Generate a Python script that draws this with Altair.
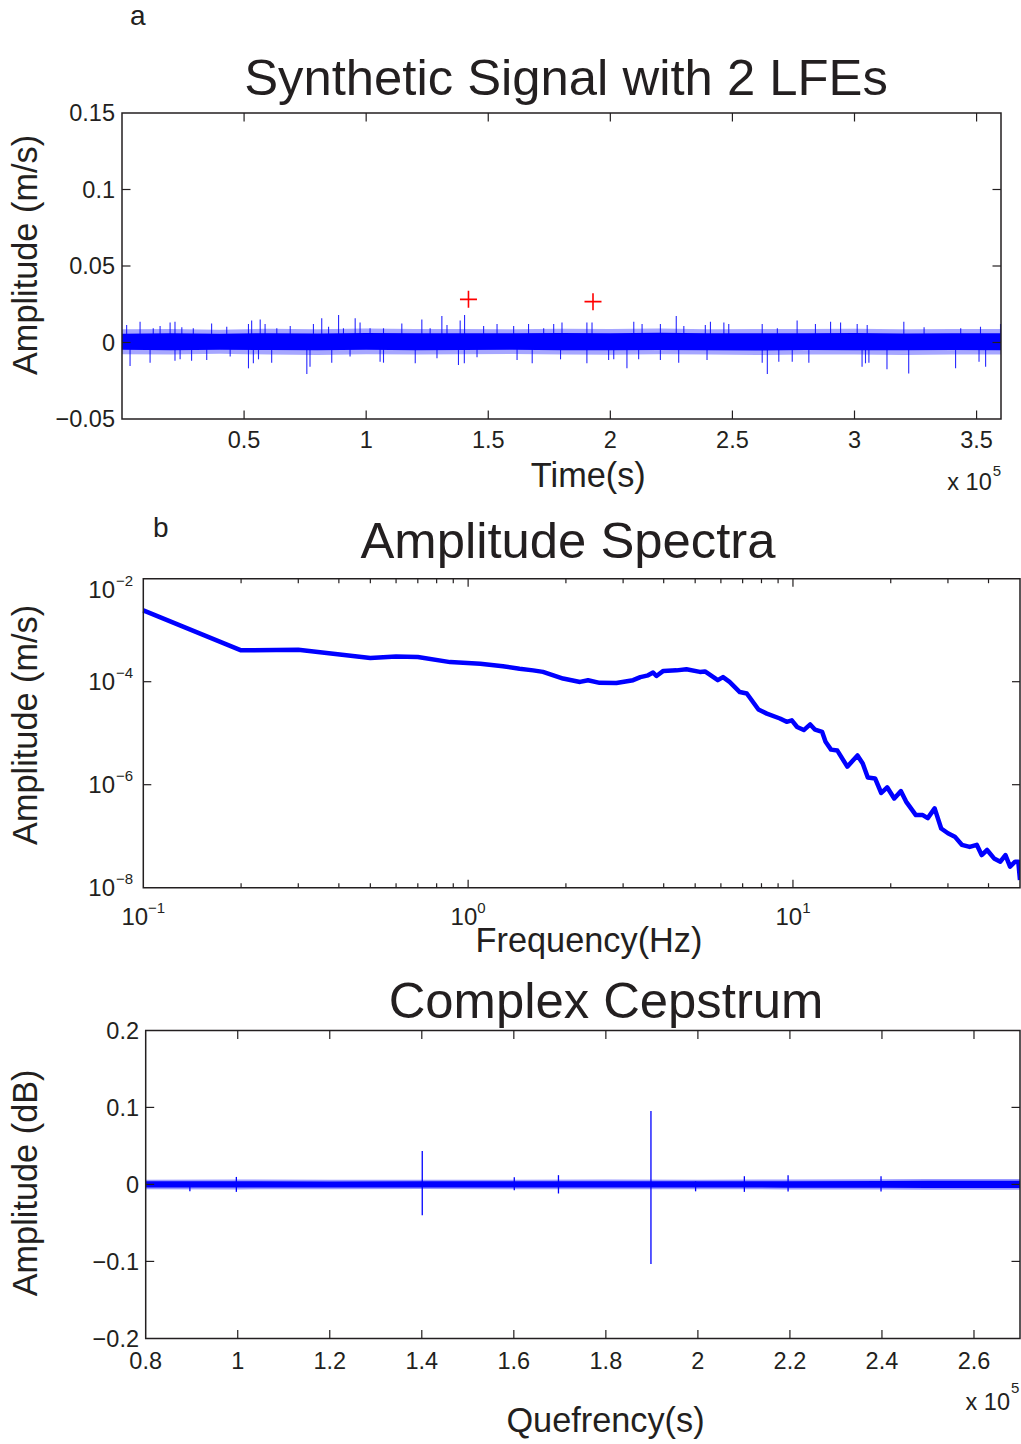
import altair as alt
import pandas as pd

FONT = "Liberation Sans"
INK = "#231f20"
BLUE = "#0000ff"
RED = "#ff0000"

# ---------------- Panel a : synthetic signal (time in units of 1e5 s) ----------------
a_x_ticks = [0.5, 1.0, 1.5, 2.0, 2.5, 3.0, 3.5]
a_y_ticks = [-0.05, 0.0, 0.05, 0.1, 0.15]
a_y_inner = [0.0, 0.05, 0.1]

lfe_time = [1.419, 1.929]
lfe_amp = [0.0282, 0.0267]

band_t = [0.0, 0.2, 0.4, 0.6, 0.8, 1.0, 1.2, 1.4, 1.6, 1.8, 2.0, 2.2, 2.4, 2.6, 2.8, 3.0, 3.2, 3.4, 3.6]
core_hi = [0.0058, 0.0060, 0.0057, 0.0061, 0.0059, 0.0062, 0.0060, 0.0061, 0.0060, 0.0062, 0.0061, 0.0063, 0.0060, 0.0061, 0.0060, 0.0062, 0.0059, 0.0060, 0.0061]
core_lo = [-0.0048, -0.0050, -0.0047, -0.0049, -0.0051, -0.0048, -0.0050, -0.0049, -0.0048, -0.0050, -0.0051, -0.0049, -0.0050, -0.0052, -0.0049, -0.0050, -0.0051, -0.0049, -0.0050]
fringe_hi = [0.0086, 0.0088, 0.0084, 0.0090, 0.0087, 0.0091, 0.0088, 0.0089, 0.0086, 0.0090, 0.0088, 0.0092, 0.0087, 0.0089, 0.0088, 0.0090, 0.0086, 0.0088, 0.0089]
fringe_lo = [-0.0076, -0.0078, -0.0074, -0.0079, -0.0081, -0.0077, -0.0078, -0.0077, -0.0075, -0.0078, -0.0080, -0.0077, -0.0079, -0.0082, -0.0078, -0.0079, -0.0081, -0.0078, -0.0079]

a_up_t = [0.019, 0.074, 0.128, 0.156, 0.197, 0.217, 0.245, 0.292, 0.367, 0.429, 0.518, 0.531, 0.566, 0.586, 0.634,
          0.689, 0.784, 0.818, 0.846, 0.887, 0.907,
          0.955, 0.975, 1.016, 1.071, 1.146, 1.228, 1.262, 1.310, 1.331, 1.385, 1.403, 1.481, 1.536, 1.604, 1.665,
          1.727, 1.768, 1.802,
          1.904, 1.925, 2.096, 2.130, 2.205, 2.270, 2.301, 2.389, 2.410, 2.465, 2.485, 2.622, 2.684,
          2.765, 2.840, 2.902, 2.943, 3.011, 3.052, 3.202, 3.285, 3.435, 3.516, 3.598]
a_up_v = [0.0114, 0.0136, 0.0093, 0.0108, 0.0130, 0.0136, 0.0099, 0.0093, 0.0125, 0.0103, 0.0121, 0.0143, 0.0151,
          0.0121, 0.0093, 0.0108, 0.0121, 0.0158, 0.0103, 0.0180, 0.0093,
          0.0158, 0.0130, 0.0093, 0.0093, 0.0125, 0.0151, 0.0093, 0.0173, 0.0114, 0.0143, 0.0180, 0.0108, 0.0121,
          0.0108, 0.0121, 0.0093, 0.0121, 0.0130,
          0.0130, 0.0130, 0.0136, 0.0121, 0.0121, 0.0173, 0.0108, 0.0114, 0.0136, 0.0130, 0.0121, 0.0121, 0.0093,
          0.0143, 0.0121, 0.0136, 0.0130, 0.0121, 0.0114, 0.0136, 0.0099, 0.0093, 0.0103, 0.0121]
a_dn_t = [0.033, 0.115, 0.217, 0.238, 0.285, 0.347, 0.443, 0.518, 0.538, 0.559, 0.613, 0.757, 0.770, 0.859,
          0.934, 1.057, 1.071, 1.201, 1.290, 1.378, 1.402, 1.454, 1.618, 1.680, 1.796,
          1.904, 1.993, 2.014, 2.068, 2.116, 2.205, 2.280, 2.396, 2.622, 2.643, 2.690,
          2.745, 2.813, 3.031, 3.045, 3.059, 3.133, 3.222, 3.414, 3.510, 3.537]
a_dn_v = [-0.0154, -0.0132, -0.0119, -0.0110, -0.0119, -0.0114, -0.0092, -0.0169, -0.0136, -0.0110, -0.0132, -0.0206,
          -0.0158, -0.0132,
          -0.0092, -0.0125, -0.0132, -0.0136, -0.0103, -0.0147, -0.0136, -0.0097, -0.0114, -0.0136, -0.0110,
          -0.0136, -0.0114, -0.0110, -0.0169, -0.0110, -0.0114, -0.0132, -0.0114, -0.0132, -0.0206, -0.0125,
          -0.0125, -0.0132, -0.0158, -0.0136, -0.0132, -0.0175, -0.0202, -0.0169, -0.0125, -0.0158]

# ---------------- Panel b : amplitude spectrum ----------------
freq_hz = [0.1, 0.2, 0.3, 0.5, 0.6, 0.7, 0.88, 1.09, 1.28, 1.44, 1.585, 1.70, 1.96, 2.21, 2.34, 2.54, 2.86, 3.22,
           3.39, 3.58, 3.71, 3.80, 3.99, 4.38, 4.70, 5.17, 5.36, 5.87, 6.09, 6.38, 6.86, 7.21, 7.83, 8.31, 9.12,
           9.56, 9.92, 10.3, 10.8, 11.3, 11.7, 12.3, 12.6, 13.1, 13.7, 14.7, 15.8, 16.4, 17.0, 17.9, 18.7, 19.5,
           20.5, 21.5, 22.3, 23.9, 25.1, 26.0, 27.3, 28.6, 30.0, 31.5, 33.1, 35.0, 36.8, 38.1, 39.6, 41.6, 43.5,
           45.1, 46.6, 48.3, 49.4, 50.0]
amp_ms = [2.43e-3, 4.07e-4, 4.17e-4, 2.88e-4, 3.09e-4, 3.02e-4, 2.40e-4, 2.24e-4, 2.0e-4, 1.78e-4, 1.66e-4, 1.55e-4,
          1.15e-4, 9.9e-5, 1.07e-4, 9.5e-5, 9.4e-5, 1.07e-4, 1.23e-4, 1.33e-4, 1.51e-4, 1.29e-4, 1.62e-4, 1.66e-4,
          1.74e-4, 1.55e-4, 1.58e-4, 1.07e-4, 1.23e-4, 9.9e-5, 6.3e-5, 5.9e-5, 2.88e-5, 2.40e-5, 1.93e-5, 1.66e-5,
          1.78e-5, 1.32e-5, 1.15e-5, 1.48e-5, 1.17e-5, 1.06e-5, 6.8e-6, 4.8e-6, 4.6e-6, 2.24e-6, 3.7e-6, 2.57e-6,
          1.38e-6, 1.32e-6, 6.9e-7, 8.9e-7, 5.4e-7, 7.5e-7, 4.7e-7, 2.57e-7, 2.57e-7, 2.24e-7, 3.47e-7, 1.41e-7,
          1.14e-7, 9.8e-8, 6.8e-8, 6.2e-8, 6.8e-8, 4.3e-8, 5.4e-8, 3.7e-8, 3.2e-8, 4.3e-8, 2.57e-8, 3.2e-8, 3.2e-8,
          1.41e-8]
b_x_major = [1.0, 10.0]
b_x_minor = [0.2, 0.3, 0.4, 0.5, 0.6, 0.7, 0.8, 0.9, 2.0, 3.0, 4.0, 5.0, 6.0, 7.0, 8.0, 9.0, 20.0, 30.0, 40.0]
b_y_major = [1e-6, 1e-4]
b_x_label_exp = [-1, 0, 1]
b_y_label_exp = [-8, -6, -4, -2]

# ---------------- Panel c : complex cepstrum (quefrency in units of 1e5 s) ----------------
c_x_ticks = [0.8, 1.0, 1.2, 1.4, 1.6, 1.8, 2.0, 2.2, 2.4, 2.6]
c_x_inner = [1.0, 1.2, 1.4, 1.6, 1.8, 2.0, 2.2, 2.4, 2.6]
c_y_ticks = [-0.2, -0.1, 0.0, 0.1, 0.2]
c_y_inner = [-0.1, 0.0, 0.1]

cband_t = [0.8, 1.0, 1.2, 1.4, 1.6, 1.8, 2.0, 2.2, 2.4, 2.5, 2.6, 2.7]
ccore_hi = [0.0040, 0.0041, 0.0039, 0.0040, 0.0040, 0.0041, 0.0040, 0.0042, 0.0044, 0.0047, 0.0048, 0.0048]
ccore_lo = [-0.0040, -0.0041, -0.0040, -0.0039, -0.0040, -0.0041, -0.0040, -0.0042, -0.0044, -0.0046, -0.0047, -0.0047]
cfringe_hi = [0.0062, 0.0064, 0.0060, 0.0062, 0.0061, 0.0063, 0.0062, 0.0064, 0.0066, 0.0070, 0.0071, 0.0070]
cfringe_lo = [-0.0064, -0.0065, -0.0062, -0.0061, -0.0063, -0.0064, -0.0062, -0.0065, -0.0067, -0.0069, -0.0070, -0.0070]

c_spike_t = [0.896, 0.997, 1.401, 1.601, 1.697, 1.898, 1.995, 2.101, 2.196, 2.398]
c_spike_hi = [0.0030, 0.0097, 0.0434, 0.0092, 0.0120, 0.0953, 0.0040, 0.0106, 0.0119, 0.0106]
c_spike_lo = [-0.0090, -0.0097, -0.0400, -0.0075, -0.0118, -0.1035, -0.0090, -0.0097, -0.0092, -0.0092]

# ---------------- style helpers ----------------
LABEL_SIZE = 23.5
SUP_SIZE = 15
AXTITLE_SIZE = 34.3
TITLE_SIZE = 50.8
TICK_LEN = 8.5
NO_VIEW = alt.ViewBackground(stroke="transparent", strokeWidth=0, fill="transparent")


def fmt(v):
    return f"{v:g}".replace("-", "\u2212")


def txt_w(s, size):
    return sum(0.584 if ch == "\u2212" else 0.556 for ch in s) * size


def exp_text(e):
    return ("\u2212" + str(-e)) if e < 0 else str(e)


def one(**cols):
    return pd.DataFrame({k: [v] for k, v in cols.items()})


def text_at(s, x, y, size, align="left", angle=0):
    return alt.Chart(one(s=s)).mark_text(font=FONT, fontSize=size, color=INK, align=align,
                                         baseline="alphabetic", angle=angle).encode(
        x=alt.value(x), y=alt.value(y), text="s:N")


def frame(x0, x1, h):
    return alt.Chart(one(s=0)).mark_rect(filled=False, stroke=INK, strokeWidth=1.5).encode(
        x=alt.value(x0), x2=alt.value(x1), y=alt.value(0), y2=alt.value(h))


def tick_rules(X, Y, x0, x1, h, xvals=None, yvals=None, L=TICK_LEN):
    layers = []
    if xvals:
        base = alt.Chart(pd.DataFrame({"t": xvals})).mark_rule(color=INK, strokeWidth=1.2)
        layers.append(base.encode(x=X("t"), y=alt.value(h), y2=alt.value(h - L)))
        layers.append(base.encode(x=X("t"), y=alt.value(0), y2=alt.value(L)))
    if yvals:
        base = alt.Chart(pd.DataFrame({"v": yvals})).mark_rule(color=INK, strokeWidth=1.2)
        layers.append(base.encode(y=Y("v"), x=alt.value(x0), x2=alt.value(x0 + L)))
        layers.append(base.encode(y=Y("v"), x=alt.value(x1), x2=alt.value(x1 - L)))
    return layers


def x_labels(X, vals, y_base):
    d = pd.DataFrame({"t": vals, "s": [fmt(v) for v in vals]})
    return alt.Chart(d).mark_text(font=FONT, fontSize=LABEL_SIZE, color=INK, align="center",
                                  baseline="alphabetic").encode(x=X("t"), y=alt.value(y_base), text="s:N")


def y_labels(Y, vals, x_right):
    d = pd.DataFrame({"v": vals, "s": [fmt(v) for v in vals]})
    return alt.Chart(d).mark_text(font=FONT, fontSize=LABEL_SIZE, color=INK, align="right",
                                  baseline="alphabetic", dy=8.2).encode(y=Y("v"), x=alt.value(x_right), text="s:N")


def times_ten(x_right, y_base, y_sup):
    return [text_at("x 10", x_right, y_base, LABEL_SIZE, "right"),
            text_at("5", x_right + 1, y_sup, SUP_SIZE, "left")]


# Every panel's group starts at the same left edge (x = 122 px in the page);
# plot frames of panels b and c start further right via their scale ranges.

# ---------------- Panel a ----------------
A_X0, A_X1, A_H = 0, 879, 306
A_GH = 322.6
a_xs = alt.Scale(domain=[0, 3.6], range=[A_X0, A_X1], nice=False, zero=False)
a_ys = alt.Scale(domain=[-0.05, 0.15], range=[A_H, 0], nice=False, zero=False)


def AX(f):
    return alt.X(f, type="quantitative", scale=a_xs, axis=None)


def AY(f):
    return alt.Y(f, type="quantitative", scale=a_ys, axis=None)


band_df = pd.DataFrame({"t": band_t, "chi": core_hi, "clo": core_lo, "fhi": fringe_hi, "flo": fringe_lo})
up_df = pd.DataFrame({"t": a_up_t, "v": a_up_v, "z": [0.0] * len(a_up_t)})
dn_df = pd.DataFrame({"t": a_dn_t, "v": a_dn_v, "z": [0.0] * len(a_dn_t)})
lfe_df = pd.DataFrame({"t": lfe_time, "v": lfe_amp})

a_layers = [
    alt.Chart(band_df).mark_area(color=BLUE, opacity=0.35).encode(x=AX("t"), y=AY("fhi"), y2="flo"),
    alt.Chart(band_df).mark_area(color=BLUE, opacity=1).encode(x=AX("t"), y=AY("chi"), y2="clo"),
    alt.Chart(up_df).mark_rule(color=BLUE, strokeWidth=1.1, opacity=0.85).encode(x=AX("t"), y=AY("v"), y2="z"),
    alt.Chart(dn_df).mark_rule(color=BLUE, strokeWidth=1.1, opacity=0.85).encode(x=AX("t"), y=AY("v"), y2="z"),
    alt.Chart(lfe_df).mark_point(shape="M-1,0L1,0M0,-1L0,1", size=289, color=RED, filled=False,
                                 strokeWidth=1.6, opacity=1).encode(x=AX("t"), y=AY("v")),
    frame(A_X0, A_X1, A_H),
]
a_layers += tick_rules(AX, AY, A_X0, A_X1, A_H, a_x_ticks, a_y_inner)
a_layers += [
    x_labels(AX, a_x_ticks, 335),
    y_labels(AY, a_y_ticks, -7),
    text_at("Synthetic Signal with 2 LFEs", 444, -18, TITLE_SIZE, "center"),
    text_at("Time(s)", 466.3, 374.3, AXTITLE_SIZE, "center"),
    text_at("Amplitude (m/s)", -85, 142, AXTITLE_SIZE, "center", 270),
    text_at("a", 8, -88, 28, "left"),
]
a_layers += times_ten(869.7, 377, 363)
panel_a = alt.layer(*a_layers).properties(width=A_X1, height=A_GH, view=NO_VIEW)

# ---------------- Panel b ----------------
B_X0, B_X1, B_H = 21.3, 898, 309
b_xs = alt.Scale(type="log", domain=[0.1, 50], range=[B_X0, B_X1], nice=False)
b_ys = alt.Scale(type="log", domain=[1e-8, 1e-2], range=[B_H, 0], nice=False)


def BX(f):
    return alt.X(f, type="quantitative", scale=b_xs, axis=None)


def BY(f):
    return alt.Y(f, type="quantitative", scale=b_ys, axis=None)


spec_df = pd.DataFrame({"t": freq_hz, "v": amp_ms})
b_layers = [
    alt.Chart(spec_df).mark_line(color=BLUE, strokeWidth=4.5, strokeJoin="round", clip=True).encode(
        x=BX("t"), y=BY("v")),
    frame(B_X0, B_X1, B_H),
]
b_layers += tick_rules(BX, BY, B_X0, B_X1, B_H, b_x_major, b_y_major, L=8)
b_layers += tick_rules(BX, BY, B_X0, B_X1, B_H, b_x_minor, None, L=4.5)

BASE_SIZE = 24
BASE_W = txt_w("10", BASE_SIZE)
for e in b_x_label_exp:
    et = exp_text(e)
    junction = (BASE_W - txt_w(et, SUP_SIZE)) / 2
    d = pd.DataFrame({"t": [10.0 ** e], "b": ["10"], "e": [et]})
    b_layers.append(alt.Chart(d).mark_text(font=FONT, fontSize=BASE_SIZE, color=INK, align="right",
                                           baseline="alphabetic", dx=junction).encode(
        x=BX("t"), y=alt.value(346.7), text="b:N"))
    b_layers.append(alt.Chart(d).mark_text(font=FONT, fontSize=SUP_SIZE, color=INK, align="left",
                                           baseline="alphabetic", dx=junction).encode(
        x=BX("t"), y=alt.value(334.7), text="e:N"))

for e in b_y_label_exp:
    et = exp_text(e)
    shift = 11 if e == b_y_label_exp[-1] else 0
    d = pd.DataFrame({"v": [10.0 ** e], "b": ["10"], "e": [et]})
    b_layers.append(alt.Chart(d).mark_text(font=FONT, fontSize=BASE_SIZE, color=INK, align="right",
                                           baseline="alphabetic", dy=8.6 + shift).encode(
        y=BY("v"), x=alt.value(-7), text="b:N"))
    b_layers.append(alt.Chart(d).mark_text(font=FONT, fontSize=SUP_SIZE, color=INK, align="left",
                                           baseline="alphabetic", dy=-3.4 + shift).encode(
        y=BY("v"), x=alt.value(-6), text="e:N"))

b_layers += [
    text_at("Amplitude Spectra", 446, -20.3, TITLE_SIZE, "center"),
    text_at("Frequency(Hz)", 467, 373.7, AXTITLE_SIZE, "center"),
    text_at("Amplitude (m/s)", -85, 146.2, AXTITLE_SIZE, "center", 270),
    text_at("b", 31, -41.3, 28, "left"),
]
panel_b = alt.layer(*b_layers).properties(width=B_X1, height=B_H, view=NO_VIEW)

# ---------------- Panel c ----------------
C_X0, C_X1, C_H = 23.7, 898, 308
c_xs = alt.Scale(domain=[0.8, 2.7], range=[C_X0, C_X1], nice=False, zero=False)
c_ys = alt.Scale(domain=[-0.2, 0.2], range=[C_H, 0], nice=False, zero=False)


def CX(f):
    return alt.X(f, type="quantitative", scale=c_xs, axis=None)


def CY(f):
    return alt.Y(f, type="quantitative", scale=c_ys, axis=None)


cband_df = pd.DataFrame({"t": cband_t, "chi": ccore_hi, "clo": ccore_lo, "fhi": cfringe_hi, "flo": cfringe_lo})
cspk_df = pd.DataFrame({"t": c_spike_t, "hi": c_spike_hi, "lo": c_spike_lo})
c_layers = [
    alt.Chart(cband_df).mark_area(color=BLUE, opacity=0.4).encode(x=CX("t"), y=CY("fhi"), y2="flo"),
    alt.Chart(cband_df).mark_area(color=BLUE, opacity=1).encode(x=CX("t"), y=CY("chi"), y2="clo"),
    alt.Chart(cspk_df).mark_rule(color=BLUE, strokeWidth=1.3).encode(x=CX("t"), y=CY("hi"), y2="lo"),
    frame(C_X0, C_X1, C_H),
]
c_layers += tick_rules(CX, CY, C_X0, C_X1, C_H, c_x_inner, c_y_inner)
c_layers += [
    x_labels(CX, c_x_ticks, 338.3),
    y_labels(CY, c_y_ticks, 17),
    text_at("Complex Cepstrum", 484, -12, TITLE_SIZE, "center"),
    text_at("Quefrency(s)", 483.5, 402, AXTITLE_SIZE, "center"),
    text_at("Amplitude (dB)", -85, 152.5, AXTITLE_SIZE, "center", 270),
]
c_layers += times_ten(888, 380, 363)
panel_c = alt.layer(*c_layers).properties(width=C_X1, height=C_H, view=NO_VIEW)

chart = alt.vconcat(
    panel_a, panel_b, panel_c, spacing=142.7, bounds="flush"
).properties(
    padding={"left": 10, "top": 3, "right": 0, "bottom": 0},
    background="white",
).configure_view(
    stroke="transparent", strokeWidth=0
).configure(font=FONT)

chart.save("out.html", embed_options={"renderer": "svg", "actions": False})
